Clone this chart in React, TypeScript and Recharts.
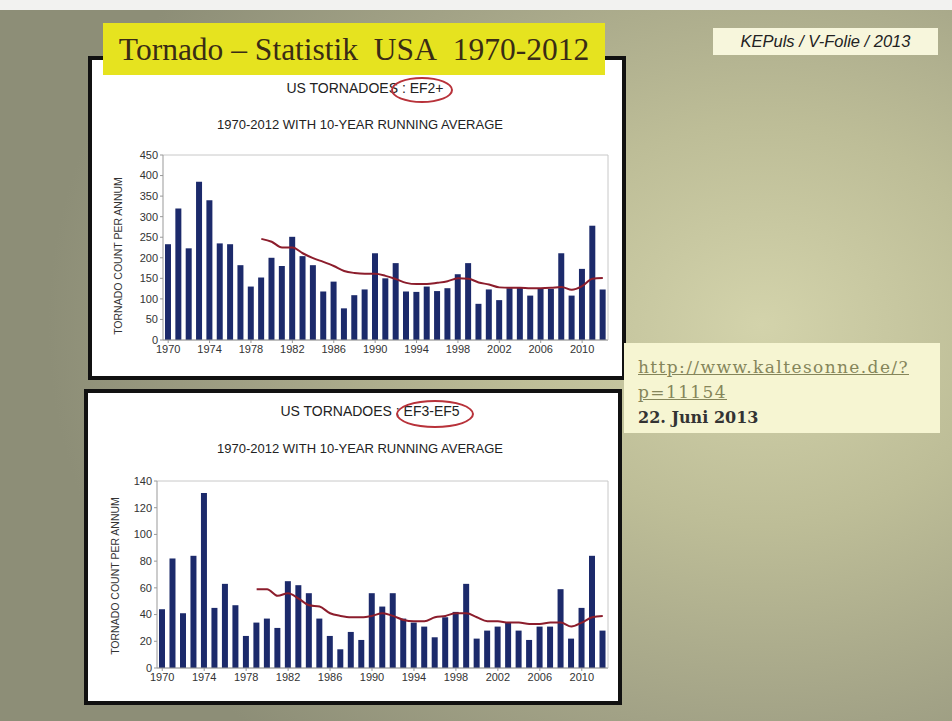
import {
    ComposedChart, Bar, Line, XAxis, YAxis, CartesianGrid
} from 'recharts';

// years 1970..2012
const years = [
    '1970', '1971', '1972', '1973', '1974', '1975', '1976', '1977', '1978', '1979',
    '1980', '1981', '1982', '1983', '1984', '1985', '1986', '1987', '1988', '1989',
    '1990', '1991', '1992', '1993', '1994', '1995', '1996', '1997', '1998', '1999',
    '2000', '2001', '2002', '2003', '2004', '2005', '2006', '2007', '2008', '2009',
    '2010', '2011', '2012'
];

// EF2+ counts per year
const ef2Counts = [
    233, 320, 223, 385, 340, 235, 233, 182, 130, 152,
    200, 180, 251, 204, 182, 118, 142, 77, 109, 123,
    211, 150, 187, 118, 117, 130, 119, 126, 160, 187,
    88, 123, 97, 126, 128, 108, 126, 124, 211, 108,
    173, 278, 123
];

// EF2+ 10-year running average (starts 1979)
const ef2Avg = [
    null, null, null, null, null, null, null, null, null, 246,
    239, 225, 225, 211, 199, 190, 180, 168, 163, 161,
    161, 156, 148, 139, 136, 136, 139, 143, 150, 149,
    140, 135, 128, 127, 127, 126, 126, 127, 129, 122,
    131, 149, 151
];

// EF3-EF5 counts per year
const ef3Counts = [
    44, 82, 41, 84, 131, 45, 63, 47, 24, 34,
    37, 30, 65, 62, 56, 37, 24, 14, 27, 21,
    56, 46, 56, 37, 34, 31, 23, 38, 42, 63,
    22, 28, 31, 34, 28, 21, 31, 31, 59, 22,
    45, 84, 28
];

// EF3-EF5 10-year running average (starts 1979)
const ef3Avg = [
    null, null, null, null, null, null, null, null, null, 59,
    59, 54, 56, 52, 47, 46, 41, 39, 38, 38,
    39, 41, 39, 36, 35, 35, 38, 39, 41, 41,
    38, 35, 35, 34, 34, 33, 33, 34, 34, 31,
    34, 38, 39
];

const ef2Ticks = [0, 50, 100, 150, 200, 250, 300, 350, 400, 450];
const ef3Ticks = [0, 20, 40, 60, 80, 100, 120, 140];

const ef2Data = years.map((y, i) => ({ year: y, count: ef2Counts[i], avg: ef2Avg[i] }));
const ef3Data = years.map((y, i) => ({ year: y, count: ef3Counts[i], avg: ef3Avg[i] }));

const FONT = "'Liberation Sans', Arial, sans-serif";
const BAR = '#1c2a6b';
const AVG = '#8c1d2c';

const abs = (left: number, top: number, extra: any = {}) => ({ position: 'absolute' as const, left, top, ...extra });

interface PanelChartProps {
    data: any[];
    ticks: number[];
    width: number;
    height: number;
    margin: { top: number; right: number; bottom: number; left: number };
}

const PanelChart = ({ data, ticks, width, height, margin }: PanelChartProps) => (
    <ComposedChart width={width} height={height} data={data} margin={margin}>
        <CartesianGrid vertical={false} stroke="#c8c8c8" />
        <XAxis
            dataKey="year"
            interval={3}
            height={20}
            tick={{ fontSize: 11, fill: '#333', fontFamily: FONT }}
            tickLine={{ stroke: '#999' }}
            tickSize={3}
            axisLine={{ stroke: '#999' }}
        />
        <YAxis
            yAxisId="l"
            width={30}
            domain={[ticks[0], ticks[ticks.length - 1]]}
            ticks={ticks}
            interval={0}
            tick={{ fontSize: 11, fill: '#333', fontFamily: FONT }}
            tickLine={{ stroke: '#999' }}
            tickSize={3}
            axisLine={{ stroke: '#999' }}
        />
        <YAxis yAxisId="r" orientation="right" width={1} tick={false} tickLine={false} axisLine={{ stroke: '#c8c8c8' }} />
        <Bar yAxisId="l" dataKey="count" fill={BAR} barSize={6} isAnimationActive={false} />
        <Line
            yAxisId="l"
            type="monotone"
            dataKey="avg"
            stroke={AVG}
            strokeWidth={2}
            dot={false}
            isAnimationActive={false}
        />
    </ComposedChart>
);

const App = () => {
    return (
        <div style={{
            position: 'absolute', left: 0, top: 0, width: 952, height: 721, overflow: 'hidden',
            background: 'radial-gradient(ellipse 75% 80% at 80% 45%, #d3d3ab 0%, #bdbd97 35%, #a2a286 70%, #8d8e77 100%)'
        }}>
            <div style={abs(0, 0, { width: 952, height: 10, background: '#f2f2f0' })} />

            {/* top panel */}
            <div style={abs(88, 56, { width: 530, height: 316, background: '#fff', border: '4px solid #111' })} />
            {/* bottom panel */}
            <div style={abs(84, 389, { width: 530, height: 308, background: '#fff', border: '4px solid #111' })} />

            {/* title */}
            <div style={abs(103, 23, {
                width: 502, height: 52, background: '#e6e31f', textAlign: 'center',
                fontFamily: "'Liberation Serif', 'Times New Roman', serif", fontSize: 31.5, lineHeight: '54px', color: '#3a2c15'
            })}>
                Tornado – Statistik&nbsp; USA&nbsp; 1970-2012
            </div>

            <div style={abs(713, 28, {
                width: 225, height: 27, background: '#f7f6dc', textAlign: 'center',
                fontFamily: "'Liberation Sans', Arial, sans-serif", fontStyle: 'italic', fontSize: 16.5, lineHeight: '27px', color: '#222'
            })}>
                KEPuls / V-Folie / 2013
            </div>

            <div style={abs(624, 343, {
                width: 302, height: 78, padding: '12px 0 0 14px', background: '#f6f5d2',
                fontFamily: "'DejaVu Serif', 'Liberation Serif', serif", fontSize: 16, lineHeight: '25px', color: '#333'
            })}>
                <div style={{ color: '#85855a', textDecoration: 'underline', fontSize: 17, letterSpacing: 1.4 }}>http://www.kaltesonne.de/?</div>
                <div style={{ color: '#85855a', textDecoration: 'underline', fontSize: 17, letterSpacing: 1.4 }}>p=11154</div>
                <div style={{ fontWeight: 'bold' }}>22. Juni 2013</div>
            </div>

            {/* top chart texts */}
            <div style={abs(245, 80, { width: 240, textAlign: 'center', fontFamily: FONT, fontSize: 14, color: '#222' })}>
                US TORNADOES : EF2+
            </div>
            <div style={abs(391, 77, { width: 58, height: 22, border: '2.5px solid #b8323a', borderRadius: '50%' })} />
            <div style={abs(190, 117, { width: 340, textAlign: 'center', fontFamily: FONT, fontSize: 13, color: '#222' })}>
                1970-2012 WITH 10-YEAR RUNNING AVERAGE
            </div>
            <div style={abs(118, 256, {
                transform: 'translate(-50%, -50%) rotate(-90deg)', whiteSpace: 'nowrap',
                fontFamily: FONT, fontSize: 10.5, color: '#333'
            })}>
                TORNADO COUNT PER ANNUM
            </div>

            {/* bottom chart texts */}
            <div style={abs(250, 403, { width: 240, textAlign: 'center', fontFamily: FONT, fontSize: 14, color: '#222' })}>
                US TORNADOES : EF3-EF5
            </div>
            <div style={abs(396, 400, { width: 74, height: 24, border: '2.5px solid #b8323a', borderRadius: '50%' })} />
            <div style={abs(190, 441, { width: 340, textAlign: 'center', fontFamily: FONT, fontSize: 13, color: '#222' })}>
                1970-2012 WITH 10-YEAR RUNNING AVERAGE
            </div>
            <div style={abs(115, 576, {
                transform: 'translate(-50%, -50%) rotate(-90deg)', whiteSpace: 'nowrap',
                fontFamily: FONT, fontSize: 10.5, color: '#333'
            })}>
                TORNADO COUNT PER ANNUM
            </div>

            <div style={abs(90, 56)}>
                <PanelChart data={ef2Data} ticks={ef2Ticks} width={535} height={323}
                    margin={{ top: 99, right: 16, bottom: 19, left: 43 }} />
            </div>
            <div style={abs(85, 390)}>
                <PanelChart data={ef3Data} ticks={ef3Ticks} width={535} height={313}
                    margin={{ top: 91, right: 11, bottom: 15, left: 42 }} />
            </div>
        </div>
    );
};

export default App;
